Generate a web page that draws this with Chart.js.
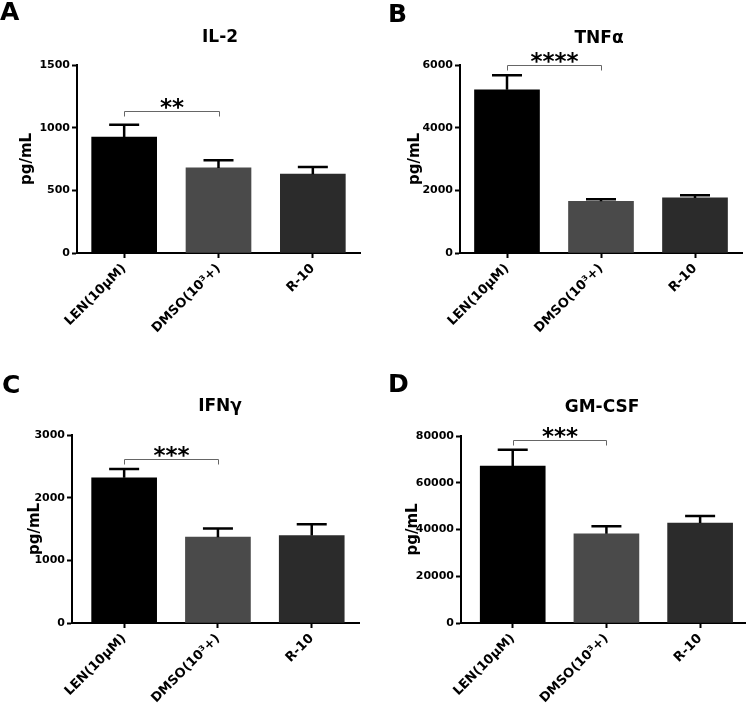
<!DOCTYPE html>
<html><head><meta charset="utf-8">
<script src="https://cdn.jsdelivr.net/npm/chart.js@4"></script>
<style>
html,body{margin:0;padding:0;background:#fff;}
#wrap{position:relative;width:750px;height:704px;background:#fff;}
.panel{position:absolute;width:375px;height:352px;}
</style></head><body>
<div id="wrap">
<div class="panel" style="left:0;top:0"><canvas id="cA" width="375" height="352"></canvas></div>
<div class="panel" style="left:375px;top:0"><canvas id="cB" width="375" height="352"></canvas></div>
<div class="panel" style="left:0;top:352px"><canvas id="cC" width="375" height="352"></canvas></div>
<div class="panel" style="left:375px;top:352px"><canvas id="cD" width="375" height="352"></canvas></div>
</div>
<script>
// ---- data ----
const categories = ['LEN(10μM)', 'DMSO(10³+)', 'R-10'];
const barColors = ['#000000', '#4a4a4a', '#2b2b2b'];

const il2Mean = [925, 679, 629];
const il2Sem  = [98, 62, 58];
const il2Ticks = [0, 500, 1000, 1500];

const tnfMean = [5211, 1653, 1758];
const tnfSem  = [460, 64, 86];
const tnfTicks = [0, 2000, 4000, 6000];

const ifnMean = [2318, 1370, 1395];
const ifnSem  = [139, 137, 182];
const ifnTicks = [0, 1000, 2000, 3000];

const gmMean = [67170, 38200, 42780];
const gmSem  = [6970, 3170, 3000];
const gmTicks = [0, 20000, 40000, 60000, 80000];

const panelTitles = ['IL-2', 'TNFα', 'IFNγ', 'GM-CSF'];
const panelLetters = ['A', 'B', 'C', 'D'];
const sigLabels = ['**', '****', '***', '***'];
const sigLevels = [1130, 6000, 2625, 78300];
const yAxisTitle = 'pg/mL';

// ---- drawing ----
const FONT = '"DejaVu Sans", "Liberation Sans", Arial, sans-serif';
Chart.defaults.font.family = FONT;
Chart.defaults.font.weight = 'bold';
Chart.defaults.color = '#000';

const annot = {
  id: 'annot',
  afterDatasetsDraw(chart, args, o) {
    const ctx = chart.ctx, xs = chart.scales.x, ys = chart.scales.y;
    ctx.save();
    // error bars (upper only)
    ctx.strokeStyle = '#000';
    ctx.lineWidth = 2.5;
    o.mean.forEach((m, i) => {
      const x = xs.getPixelForValue(i);
      const y0 = ys.getPixelForValue(m);
      const y1 = ys.getPixelForValue(m + o.sem[i]);
      ctx.beginPath();
      ctx.moveTo(x, y0); ctx.lineTo(x, y1);
      ctx.moveTo(x - 15, y1); ctx.lineTo(x + 15, y1);
      ctx.stroke();
    });
    // significance bracket
    const bx0 = Math.round(xs.getPixelForValue(0)) + 0.5;
    const bx1 = Math.round(xs.getPixelForValue(1)) + 0.5;
    const by = Math.round(ys.getPixelForValue(o.sigLevel)) + 0.5;
    ctx.strokeStyle = '#666';
    ctx.lineWidth = 1;
    ctx.beginPath();
    ctx.moveTo(bx0, by + 5); ctx.lineTo(bx0, by); ctx.lineTo(bx1, by); ctx.lineTo(bx1, by + 5);
    ctx.stroke();
    ctx.fillStyle = '#000';
    ctx.textAlign = 'center';
    ctx.textBaseline = 'alphabetic';
    ctx.font = 'bold 23px ' + FONT;
    ctx.fillText(o.sigLabel, (bx0 + bx1) / 2, by + 3);
    // title
    ctx.font = 'bold 17px ' + FONT;
    ctx.fillText(o.title, o.titleX, o.titleY);
    // panel letter
    ctx.textAlign = 'left';
    ctx.font = 'bold 25px ' + FONT;
    ctx.fillText(o.letter, o.letterX, o.letterY);
    ctx.restore();
  }
};

function makePanel(id, idx, mean, sem, yTicks, g) {
  const XH = 90;
  new Chart(document.getElementById(id), {
    type: 'bar',
    data: {
      datasets: [{
        data: mean.map((v, i) => ({x: i, y: v})),
        backgroundColor: barColors,
        borderWidth: 0,
        barThickness: 65
      }]
    },
    options: {
      responsive: false,
      animation: false,
      events: [],
      layout: {padding: {left: 0, top: g.t, right: 375 - g.r, bottom: 352 - g.b - XH}},
      plugins: {
        legend: {display: false},
        tooltip: {enabled: false},
        annot: {
          mean: mean, sem: sem,
          sigLevel: sigLevels[idx], sigLabel: sigLabels[idx],
          title: panelTitles[idx], titleX: g.tx, titleY: g.ty,
          letter: panelLetters[idx], letterX: g.lx, letterY: g.ly
        }
      },
      scales: {
        x: {
          type: 'linear',
          offset: false,
          bounds: 'data',
          min: g.xmin, max: g.xmax,
          afterBuildTicks: s => { s.ticks = categories.map((c, i) => ({value: i})); },
          afterFit: s => { s.height = XH; },
          ticks: {
            autoSkip: false, minRotation: 45, maxRotation: 45, padding: 3,
            font: {size: 13, weight: 'bold'}, color: '#000',
            callback: v => categories[v]
          },
          grid: {display: true, offset: false, drawOnChartArea: false, drawTicks: true, tickLength: 5, tickWidth: 2, tickColor: '#000', color: '#000'},
          border: {display: true, color: '#000', width: 2}
        },
        y: {
          min: 0, max: yTicks[yTicks.length - 1],
          afterBuildTicks: s => { s.ticks = yTicks.map(v => ({value: v})); },
          afterFit: s => { s.width = g.l; },
          ticks: {padding: 2, font: {size: 11, weight: 'bold'}, color: '#000', callback: v => String(v)},
          grid: {display: true, drawOnChartArea: false, drawTicks: true, tickLength: 5, tickWidth: 2, tickColor: '#000', color: '#000'},
          border: {display: true, color: '#000', width: 2},
          title: {display: true, text: yAxisTitle, font: {size: 15, weight: 'bold'}, color: '#000', padding: {top: g.yt - 9, bottom: 0}}
        }
      }
    },
    plugins: [annot]
  });
}

makePanel('cA', 0, il2Mean, il2Sem, il2Ticks,
  {l: 77, r: 360, t: 65, b: 253, xmin: -0.5, xmax: 2.5, tx: 220, ty: 42, lx: 0, ly: 20, yt: 27});
makePanel('cB', 1, tnfMean, tnfSem, tnfTicks,
  {l: 85, r: 367, t: 65, b: 253, xmin: -0.5, xmax: 2.5, tx: 224, ty: 43, lx: 13, ly: 22, yt: 40});
makePanel('cC', 2, ifnMean, ifnSem, ifnTicks,
  {l: 72, r: 359, t: 83, b: 271, xmin: -0.556, xmax: 2.504, tx: 220, ty: 59, lx: 2, ly: 41, yt: 35});
makePanel('cD', 3, gmMean, gmSem, gmTicks,
  {l: 86, r: 370, t: 84, b: 271, xmin: -0.552, xmax: 2.479, tx: 227, ty: 60, lx: 13, ly: 40, yt: 38});
</script>
</body></html>
